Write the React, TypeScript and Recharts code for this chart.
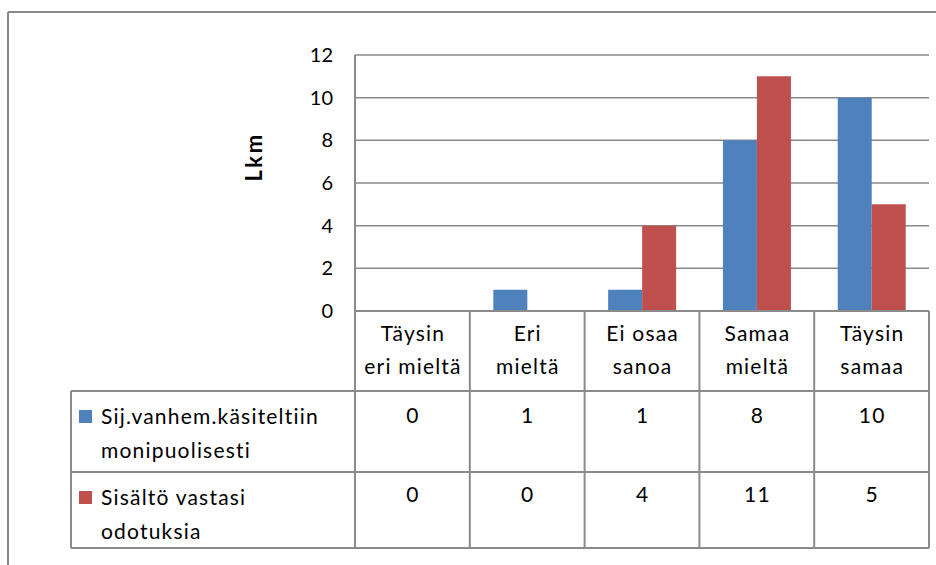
import { Bar, BarChart, CartesianGrid, XAxis, YAxis } from "recharts";

const categoryLines = [
  ["Täysin", "eri mieltä"],
  ["Eri", "mieltä"],
  ["Ei osaa", "sanoa"],
  ["Samaa", "mieltä"],
  ["Täysin", "samaa"],
];
const categories = categoryLines.map((l) => l.join(" "));
const seriesLines = [
  ["Sij.vanhem.käsiteltiin", "monipuolisesti"],
  ["Sisältö vastasi", "odotuksia"],
];
const seriesNames = seriesLines.map((l) => l.join(" "));
const sijValues = [0, 1, 1, 8, 10];
const sisaltoValues = [0, 0, 4, 11, 5];
const yTicks = [0, 2, 4, 6, 8, 10, 12];

const COLORS = ["#4F81BD", "#C0504D"];
const GRID = "#8a8a8a";
const FONT = "Lato, 'Open Sans', sans-serif";
const FS = 21;
const LS = 1.2;

const W = 936;
const H = 565;
const PLOT = { left: 355, right: 929, top: 55, bottom: 311 };
const TABLE = { left: 71, header: 391, row1: 472, bottom: 548 };
const COL_W = (PLOT.right - PLOT.left) / categories.length;

const data = categories.map((name, i) => ({
  name,
  sij: sijValues[i],
  sisalto: sisaltoValues[i],
}));

// one data-table column per category tick
function ColumnTick({ x, y, index }: any) {
  const lines = categoryLines[index];
  const row = data[index];
  const txt = {
    fontFamily: FONT,
    fontSize: FS,
    letterSpacing: LS,
    fill: "#000",
    textAnchor: "middle" as const,
  };
  return (
    <g>
      {index === 0 && (
        <line x1={x - COL_W / 2} x2={x - COL_W / 2} y1={y} y2={TABLE.bottom} stroke={GRID} strokeWidth={2} />
      )}
      <line x1={x + COL_W / 2} x2={x + COL_W / 2} y1={y} y2={TABLE.bottom} stroke={GRID} strokeWidth={2} />
      <text x={x + LS / 2} y={y + 30} {...txt}>{lines[0]}</text>
      <text x={x + LS / 2} y={y + 63} {...txt}>{lines[1]}</text>
      <text x={x + LS / 2} y={TABLE.header + 32} {...txt}>{row.sij}</text>
      <text x={x + LS / 2} y={TABLE.row1 + 30} {...txt}>{row.sisalto}</text>
    </g>
  );
}

export default function App() {
  const legendRows = [
    { top: TABLE.header, lines: seriesLines[0], color: COLORS[0] },
    { top: TABLE.row1, lines: seriesLines[1], color: COLORS[1] },
  ];
  return (
    <div style={{ position: "absolute", left: 0, top: 0, width: W, height: H, background: "#fff", overflow: "hidden" }}>
      <BarChart
        width={W}
        height={H}
        data={data}
        margin={{ top: PLOT.top, right: W - PLOT.right, bottom: 0, left: 0 }}
        barGap={0}
        barCategoryGap="20.5%"
      >
        <CartesianGrid vertical={false} stroke={GRID} strokeWidth={1.5} />
        <YAxis
          width={PLOT.left}
          domain={[0, 12]}
          ticks={yTicks}
          interval={0}
          tickLine={false}
          tickSize={0}
          tickMargin={22}
          axisLine={{ stroke: GRID, strokeWidth: 2 }}
          tick={{ fontFamily: FONT, fontSize: 20, fill: "#000" }}
        />
        <XAxis
          dataKey="name"
          height={H - PLOT.bottom}
          interval={0}
          tickLine={false}
          tickSize={0}
          tickMargin={0}
          axisLine={{ stroke: GRID, strokeWidth: 2 }}
          tick={<ColumnTick />}
        />
        <Bar dataKey="sij" name={seriesNames[0]} fill={COLORS[0]} isAnimationActive={false} />
        <Bar dataKey="sisalto" name={seriesNames[1]} fill={COLORS[1]} isAnimationActive={false} />
      </BarChart>
      <svg width={W} height={H} style={{ position: "absolute", left: 0, top: 0, pointerEvents: "none" }}>
        <line x1={8} x2={W} y1={12} y2={12} stroke="#888" strokeWidth={2} />
        <line x1={8} x2={8} y1={12} y2={H} stroke="#888" strokeWidth={2} />
        <text
          x={262}
          y={157}
          transform="rotate(-90, 262, 157)"
          textAnchor="middle"
          fontFamily={FONT}
          fontSize={22}
          letterSpacing={2.5}
          fontWeight="bold"
        >
          Lkm
        </text>
        {[TABLE.header, TABLE.row1, TABLE.bottom].map((yy) => (
          <line key={yy} x1={TABLE.left} x2={PLOT.right} y1={yy} y2={yy} stroke={GRID} strokeWidth={2} />
        ))}
        <line x1={TABLE.left} x2={TABLE.left} y1={TABLE.header} y2={TABLE.bottom} stroke={GRID} strokeWidth={2} />
        {legendRows.map((r) => (
          <g key={r.top}>
            <rect x={79} y={r.top + 19} width={13} height={13} fill={r.color} />
            <text x={101} y={r.top + 33} fontFamily={FONT} fontSize={FS} letterSpacing={LS}>{r.lines[0]}</text>
            <text x={101} y={r.top + 67} fontFamily={FONT} fontSize={FS} letterSpacing={LS}>{r.lines[1]}</text>
          </g>
        ))}
      </svg>
    </div>
  );
}
